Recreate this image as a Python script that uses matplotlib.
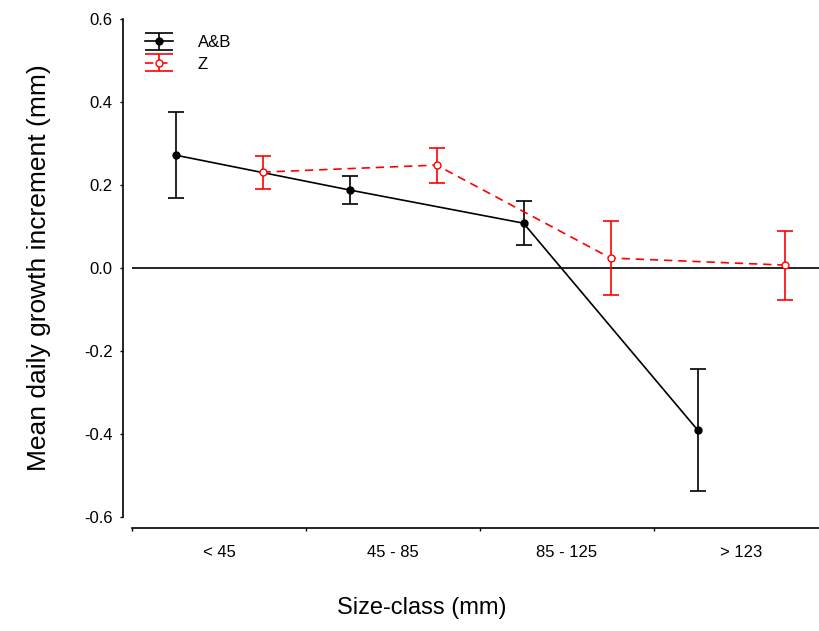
import numpy as np
import matplotlib
matplotlib.use('Agg')
import matplotlib.pyplot as plt
from matplotlib.container import ErrorbarContainer
from matplotlib.legend_handler import HandlerErrorbar
from matplotlib.lines import Line2D

plt.rcParams['font.family'] = ['Liberation Sans', 'DejaVu Sans']

categories = ['< 45', '45 - 85', '85 - 125', '> 123']
ab_mean = [0.272, 0.188, 0.108, -0.390]
ab_err = [0.104, 0.034, 0.053, 0.147]
z_mean = [0.231, 0.248, 0.024, 0.007]
z_err = [0.040, 0.042, 0.089, 0.083]

x = np.arange(len(categories))


# legend caps as wide as the handle, like SigmaPlot draws them
class WideCapHandler(HandlerErrorbar):
    def create_artists(self, legend, orig_handle, xdescent, ydescent,
                       width, height, fontsize, trans):
        artists = super().create_artists(legend, orig_handle, xdescent,
                                         ydescent, width, height, fontsize,
                                         trans)
        for a in artists:
            if isinstance(a, Line2D) and a.get_marker() == '_':
                a.set_markersize(width)
        return artists


W, H = 819, 631
fig = plt.figure(figsize=(W / 100, H / 100), dpi=100)
ax = fig.add_axes([132 / W, 1 - 517 / H, 696 / W, 498 / H])

ax.axhline(0, color='black', lw=1.2, zorder=1)

ax.errorbar(x - 0.25, ab_mean, yerr=ab_err, color='black', lw=1.2,
            elinewidth=1.2, capsize=6, capthick=1.2, marker='o', ms=5,
            mfc='black', mec='black', label='A&B', zorder=3)
ax.errorbar(x + 0.25, z_mean, yerr=z_err, color='red', lw=1.2,
            ls=(0, (5, 3.5)), elinewidth=1.2, capsize=6, capthick=1.2,
            marker='o', ms=5, mfc='white', mec='red', label='Z', zorder=3)

ax.set_xlim(-0.5, 3.5)
ax.set_ylim(-0.6, 0.6)
ax.set_yticks([-0.6, -0.4, -0.2, 0.0, 0.2, 0.4, 0.6])
ax.set_yticklabels(['-0.6', '-0.4', '-0.2', '0.0', '0.2', '0.4', '0.6'])
ax.set_xticks([-0.5, 0.5, 1.5, 2.5, 3.5])
ax.set_xticklabels([])
ax.set_xticks(x, minor=True)
ax.set_xticklabels(categories, minor=True)
ax.tick_params(axis='x', which='minor', length=0, pad=12, labelsize=12)
ax.tick_params(axis='x', which='major', length=2.5, width=1, direction='out')
ax.tick_params(axis='y', length=2.5, width=1, labelsize=12, pad=5)

for s in ['top', 'right']:
    ax.spines[s].set_visible(False)
ax.spines['left'].set_position(('outward', 6.5))
ax.spines['bottom'].set_position(('outward', 7.9))
ax.spines['left'].set_linewidth(1.2)
ax.spines['bottom'].set_linewidth(1.2)

ax.set_ylabel('Mean daily growth increment (mm)', fontsize=19, labelpad=24)
ax.set_xlabel('Size-class (mm)', fontsize=17)
ax.xaxis.set_label_coords((422 - 132) / 696, (517 - 608) / 498)
ax.xaxis.label.set_va('center')

ax.legend(loc='upper left', bbox_to_anchor=(145 / W, 1 - 35 / H),
          bbox_transform=fig.transFigure, frameon=False, fontsize=12,
          borderpad=0, borderaxespad=0, handlelength=1.7,
          labelspacing=0.4, handletextpad=1.45,
          handler_map={ErrorbarContainer: WideCapHandler()})

fig.savefig('out.png', dpi=100)
